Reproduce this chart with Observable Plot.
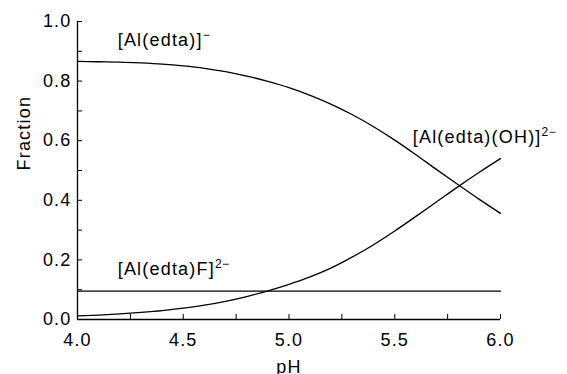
<!DOCTYPE html>
<html>
<head>
<meta charset="utf-8">
<script src="https://cdn.jsdelivr.net/npm/d3@7"></script>
<script src="https://cdn.jsdelivr.net/npm/@observablehq/plot@0.6"></script>
<style>
  html, body { margin: 0; padding: 0; background: #fff; }
</style>
</head>
<body>
<div id="chart"></div>
<script>
// ---- data ----
const pH        = [4.0, 4.1, 4.2, 4.3, 4.4, 4.5, 4.6, 4.7, 4.8, 4.9, 5.0, 5.1, 5.2, 5.3, 5.4, 5.5, 5.6, 5.7, 5.8, 5.9, 6.0];
const alEdta    = [0.866, 0.865, 0.864, 0.861, 0.857, 0.851, 0.843, 0.832, 0.817, 0.799, 0.778, 0.752, 0.722, 0.687, 0.647, 0.602, 0.553, 0.502, 0.452, 0.403, 0.356];
const alEdtaOH  = [0.012, 0.015, 0.019, 0.024, 0.030, 0.038, 0.048, 0.061, 0.077, 0.096, 0.118, 0.143, 0.173, 0.210, 0.251, 0.297, 0.346, 0.396, 0.446, 0.494, 0.540];
const alEdtaF   = [0.095, 0.095, 0.095, 0.095, 0.095, 0.095, 0.095, 0.095, 0.095, 0.095, 0.095, 0.095, 0.095, 0.095, 0.095, 0.095, 0.095, 0.095, 0.095, 0.095, 0.095];

const seriesNames = ["[Al(edta)]−", "[Al(edta)(OH)]2−", "[Al(edta)F]2−"];

// species labels (annotation text, superscripts, anchor in data units)
const labelText = ["[Al(edta)]", "[Al(edta)F]", "[Al(edta)(OH)]"];
const labelSup  = ["−", "2−", "2−"];
const labelPH   = [4.19, 4.19, 5.585];
const labelFrac = [0.919, 0.148, 0.591];

const xMajor = [4.0, 4.5, 5.0, 5.5, 6.0];
const xMinor = [4.25, 4.75, 5.25, 5.75];
const yMajor = [0.0, 0.2, 0.4, 0.6, 0.8, 1.0];
const yMinor = [0.1, 0.3, 0.5, 0.7, 0.9];

// ---- table ----
const rows = [];
[alEdta, alEdtaOH, alEdtaF].forEach((vals, s) => {
  vals.forEach((v, i) => rows.push({series: seriesNames[s], pH: pH[i], frac: v}));
});
const labels = labelText.map((t, i) => ({text: t, sup: labelSup[i], pH: labelPH[i], frac: labelFrac[i]}));

const fmt = d3.format(".1f");

const chart = Plot.plot({
  width: 567,
  height: 374,
  marginLeft: 77,
  marginRight: 67,
  marginTop: 21,
  marginBottom: 55,
  style: {
    fontFamily: "'Liberation Sans', Arial, Helvetica, sans-serif",
    fontSize: "18px",
    letterSpacing: "1.2px",
    color: "#000",
    background: "#fff",
    overflow: "visible"
  },
  x: {domain: [4, 6]},
  y: {domain: [0, 1]},
  marks: [
    // axis lines
    Plot.ruleX([4], {stroke: "#000", strokeWidth: 1.3}),
    Plot.ruleY([0], {stroke: "#000", strokeWidth: 1.3}),
    // inward ticks
    Plot.axisX(xMajor.concat(xMinor), {tickSize: -5, tickFormat: () => "", label: null, stroke: "#000", strokeWidth: 1}),
    Plot.axisY(yMajor.concat(yMinor), {tickSize: -5, tickFormat: () => "", label: null, stroke: "#000", strokeWidth: 1}),
    // tick labels
    Plot.axisX(xMajor, {tickSize: 0, tickPadding: 14, tickFormat: fmt, label: null, fill: "#000"}),
    Plot.axisY(yMajor, {tickSize: 0, tickPadding: 6, tickFormat: fmt, label: null, fill: "#000"}),
    // axis titles
    Plot.text(["pH"], {frameAnchor: "bottom", dy: 41, lineAnchor: "top", fill: "#000"}),
    Plot.text(["Fraction"], {frameAnchor: "left", dx: -60, rotate: -90, lineAnchor: "top", fill: "#000"}),
    // curves
    Plot.line(rows, {x: "pH", y: "frac", z: "series", stroke: "#000", strokeWidth: 1.3, curve: "monotone-x"}),
    // species labels
    Plot.text(labels, {x: "pH", y: "frac", text: "text", textAnchor: "start", lineAnchor: "bottom", fill: "#000"})
  ]
});

document.getElementById("chart").appendChild(chart);

// superscripts
const supByText = new Map(labels.map(d => [d.text, d.sup]));
d3.select(chart).selectAll("text").each(function() {
  const t = d3.select(this);
  const base = t.text();
  const sup = supByText.get(base);
  if (sup) {
    t.append("tspan").attr("dy", "-7").attr("font-size", "12px").attr("letter-spacing", "0.5px").text(sup);
  }
});
</script>
</body>
</html>
